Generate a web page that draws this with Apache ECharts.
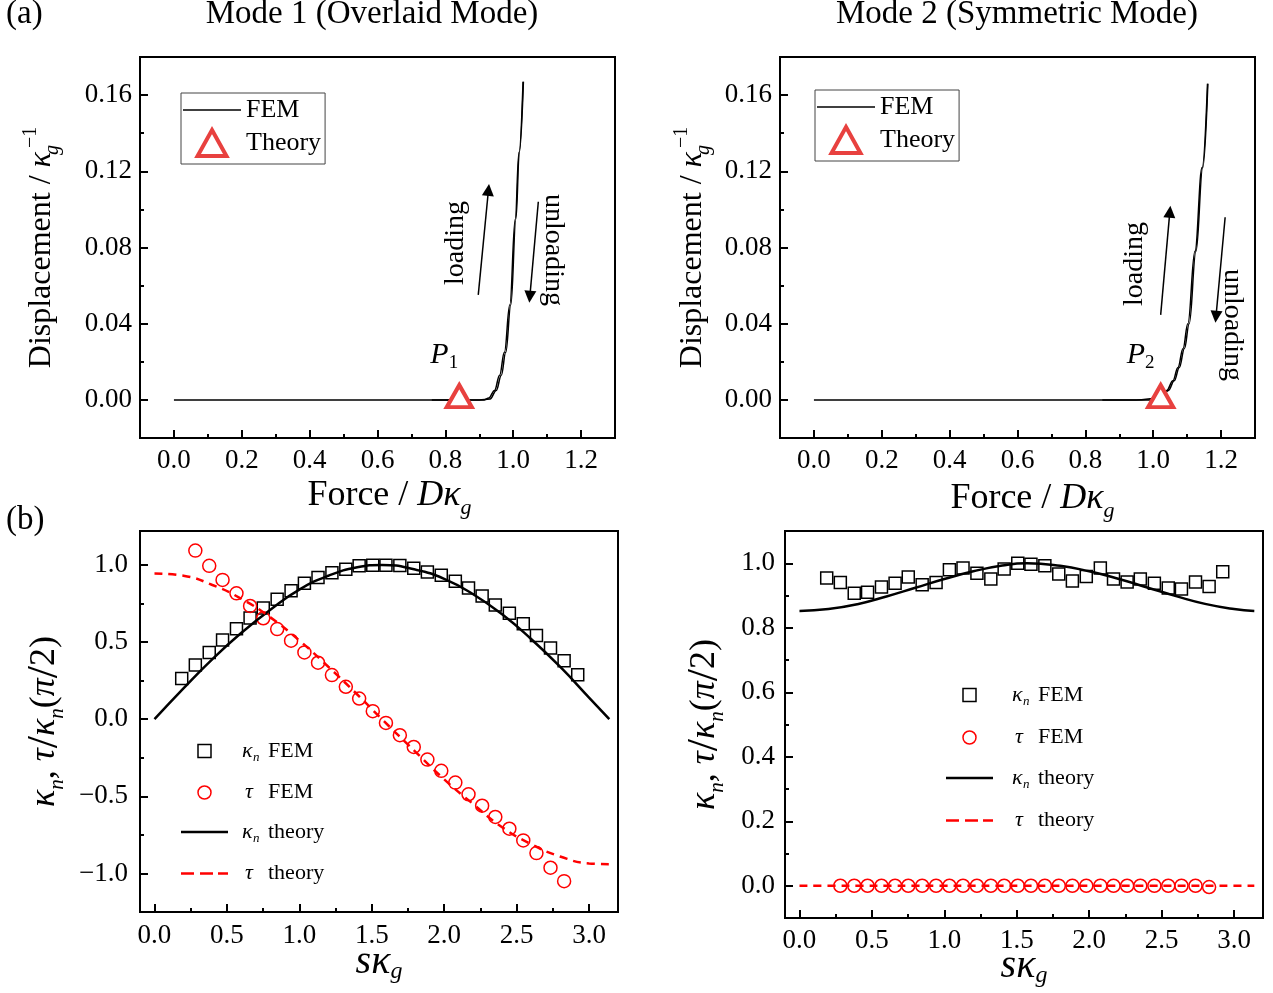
<!DOCTYPE html>
<html lang="en">
<head>
<meta charset="UTF-8">
<title>Mode 1 / Mode 2</title>
<script src="https://cdn.jsdelivr.net/npm/echarts@6/dist/echarts.min.js"></script>
<style>
    html, body { margin: 0; padding: 0; background: #fff; }
    #chart { width: 1273px; height: 993px; }
</style>
</head>
<body>
<div id="chart"></div>
<script>
// ---------- (a) force / displacement ----------
var mode1LoadF   = [0, 0.2, 0.4, 0.6, 0.8, 0.9, 0.932, 0.95, 0.965, 0.978, 0.993, 1.008, 1.018, 1.030];
var mode1LoadD   = [0, 0, 0, 0, 0, 0, 0.0005, 0.005, 0.013, 0.025, 0.050, 0.095, 0.130, 0.167];
var mode1UnloadF = [1.029, 1.017, 1.006, 0.990, 0.974, 0.960, 0.945, 0.928, 0.915, 0.88, 0.76];
var mode1UnloadD = [0.167, 0.130, 0.095, 0.050, 0.025, 0.013, 0.005, 0.001, 0, 0, 0];
var mode1Theory  = [[0.841, 0.002]];

var mode2LoadF   = [0, 0.3, 0.6, 0.9, 1.0, 1.025, 1.045, 1.062, 1.077, 1.092, 1.106, 1.126, 1.146, 1.161];
var mode2LoadD   = [0, 0, 0, 0, 0, 0.001, 0.005, 0.010, 0.017, 0.027, 0.040, 0.078, 0.122, 0.166];
var mode2UnloadF = [1.160, 1.144, 1.123, 1.102, 1.088, 1.073, 1.058, 1.040, 1.02, 0.95, 0.85];
var mode2UnloadD = [0.166, 0.122, 0.078, 0.040, 0.027, 0.017, 0.010, 0.005, 0.001, 0, 0];
var mode2Theory  = [[1.022, 0.002]];

var forceTicks = [0, 0.2, 0.4, 0.6, 0.8, 1.0, 1.2];
var forceMinor = [0.1, 0.3, 0.5, 0.7, 0.9, 1.1];
var dispTicks  = [0, 0.04, 0.08, 0.12, 0.16];
var dispMinor  = [0.02, 0.06, 0.10, 0.14];

// ---------- (b) curvature / torsion ----------
var femS = [0.188, 0.282, 0.378, 0.470, 0.566, 0.660, 0.751, 0.847, 0.943, 1.035,
            1.129, 1.225, 1.321, 1.413, 1.507, 1.598, 1.694, 1.790, 1.884, 1.980,
            2.077, 2.168, 2.262, 2.353, 2.450, 2.546, 2.637, 2.734, 2.828, 2.922];
var tauS = [0.282, 0.378, 0.470, 0.566, 0.660, 0.751, 0.847, 0.943, 1.035, 1.129,
            1.225, 1.321, 1.413, 1.507, 1.598, 1.694, 1.790, 1.884, 1.980, 2.077,
            2.168, 2.262, 2.353, 2.450, 2.546, 2.637, 2.734, 2.828];

var knFem1  = [0.264, 0.351, 0.433, 0.513, 0.586, 0.656, 0.721, 0.777, 0.833, 0.881,
               0.918, 0.950, 0.972, 0.994, 0.998, 0.998, 0.996, 0.978, 0.955, 0.933,
               0.894, 0.851, 0.799, 0.740, 0.686, 0.619, 0.543, 0.461, 0.379, 0.288];
var tauFem1 = [1.093, 0.994, 0.903, 0.816, 0.734, 0.654, 0.584, 0.509, 0.433, 0.366,
               0.286, 0.210, 0.134, 0.052, -0.024, -0.104, -0.180, -0.262, -0.335, -0.411,
               -0.487, -0.561, -0.634, -0.710, -0.786, -0.868, -0.963, -1.050];

var knFem2  = [0.954, 0.940, 0.907, 0.910, 0.926, 0.938, 0.957, 0.933, 0.940, 0.980,
               0.985, 0.969, 0.951, 0.982, 1.000, 0.997, 0.992, 0.967, 0.945, 0.959,
               0.985, 0.951, 0.942, 0.951, 0.938, 0.923, 0.920, 0.942, 0.928, 0.974];
var tauFem2 = [0, 0, 0, 0, 0, 0, 0, 0, 0, 0, 0, 0, 0, 0, 0, 0, 0, 0, 0, 0,
               0, 0, 0, 0, 0, 0, 0, -0.004];

var thS     = [0, 0.2, 0.4, 0.6, 0.8, 1.0, 1.2, 1.4, 1.57, 1.8, 2.0, 2.2, 2.4, 2.6, 2.8, 3.0, 3.14];
var knTh1   = [0, 0.20, 0.39, 0.56, 0.71, 0.84, 0.93, 0.985, 1.0, 0.97, 0.91, 0.81, 0.68, 0.52, 0.34, 0.14, 0];
var tauTh1  = [0.945, 0.93, 0.87, 0.78, 0.66, 0.51, 0.34, 0.16, 0, -0.21, -0.39, -0.55, -0.70, -0.81, -0.89, -0.935, -0.94];
var knTh2   = [0.852, 0.858, 0.873, 0.897, 0.924, 0.951, 0.975, 0.993, 1.0, 0.992, 0.975, 0.952, 0.925, 0.898, 0.874, 0.858, 0.852];
var tauTh2  = [0, 0, 0, 0, 0, 0, 0, 0, 0, 0, 0, 0, 0, 0, 0, 0, 0];

var sTicks  = [0, 0.5, 1.0, 1.5, 2.0, 2.5, 3.0];
var sMinor  = [0.25, 0.75, 1.25, 1.75, 2.25, 2.75];
var r1Ticks = [-1.0, -0.5, 0, 0.5, 1.0];
var r1Minor = [-0.75, -0.25, 0.25, 0.75];
var r2Ticks = [0, 0.2, 0.4, 0.6, 0.8, 1.0];
var r2Minor = [0.1, 0.3, 0.5, 0.7, 0.9];

var FF = 'Liberation Serif';
var RED_A = '#e8413f';
var RED_B = '#ff0000';

// legend icon shapes
var ICON_LINE_TOP = 'path://M0,0 L58,0 L58,1.5 L0,1.5 Z';
var ICON_TRI      = 'path://M5,0 L10,9 L0,9 Z';
var ICON_SQUARE   = 'path://M0,0 L10,0 L10,10 L0,10 Z';
var ICON_LINE     = 'path://M0,0 L47,0 L47,2.5 L0,2.5 Z';
var ICON_DASH     = 'path://M0,0 L13,0 L13,2.5 L0,2.5 Z M19,0 L32,0 L32,2.5 L19,2.5 Z M37,0 L47,0 L47,2.5 L37,2.5 Z';

function zip(xs, ys) {
    var out = [];
    for (var i = 0; i < xs.length; i++) out.push([xs[i], ys[i]]);
    return out;
}
function fmt(d) {
    return function (v) {
        var s = Math.abs(v).toFixed(d);
        return (v < -1e-9 ? '\u2212' : '') + s;
    };
}

var xRich = {
    t:   {fontFamily: FF, fontSize: 36, lineHeight: 46, color: '#000'},
    i:   {fontFamily: FF, fontSize: 36, lineHeight: 46, fontStyle: 'italic', color: '#000'},
    sub: {fontFamily: FF, fontSize: 22, lineHeight: 22, fontStyle: 'italic', verticalAlign: 'bottom', color: '#000'},
    bi:  {fontFamily: FF, fontSize: 40, lineHeight: 44, fontStyle: 'italic', color: '#000'},
    bsub:{fontFamily: FF, fontSize: 24, lineHeight: 22, fontStyle: 'italic', verticalAlign: 'bottom', color: '#000'}
};
var yRich = {
    t:   {fontFamily: FF, fontSize: 32, lineHeight: 42, color: '#000'},
    i:   {fontFamily: FF, fontSize: 32, lineHeight: 42, fontStyle: 'italic', color: '#000'},
    sub: {fontFamily: FF, fontSize: 20, lineHeight: 20, fontStyle: 'italic', verticalAlign: 'bottom', color: '#000'},
    subg:{fontFamily: FF, fontSize: 20, lineHeight: 20, fontStyle: 'italic', verticalAlign: 'bottom', width: 4, color: '#000'},
    sup: {fontFamily: FF, fontSize: 20, lineHeight: 20, verticalAlign: 'top', color: '#000'}
};
var rRich = {
    t:   {fontFamily: FF, fontSize: 36, lineHeight: 46, color: '#000'},
    sl:  {fontFamily: FF, fontSize: 44, lineHeight: 46, color: '#000'},
    i:   {fontFamily: FF, fontSize: 36, lineHeight: 46, fontStyle: 'italic', color: '#000'},
    sub: {fontFamily: FF, fontSize: 21, lineHeight: 21, fontStyle: 'italic', verticalAlign: 'bottom', color: '#000'}
};

function mainX(grid, min, max, ticks, dec, name, gap, margin, shift, freeName) {
    return {
        type: 'value', gridIndex: grid, min: min, max: max, position: 'bottom',
        axisLine: {show: true, onZero: false, lineStyle: {color: '#000', width: 2}},
        axisTick: {show: true, inside: true, length: 8, customValues: ticks, lineStyle: {color: '#000', width: 2}},
        axisLabel: {show: true, customValues: ticks, formatter: fmt(dec), margin: margin,
                    color: '#000', fontFamily: FF, fontSize: 27},
        splitLine: {show: false},
        name: name, nameLocation: 'middle', nameGap: gap,
        nameMoveOverlap: !freeName,
        nameTextStyle: {fontFamily: FF, fontSize: 36, color: '#000', rich: xRich, padding: [0, 0, 0, shift]}
    };
}
function mainY(grid, min, max, ticks, dec, name, gap, margin, rich) {
    return {
        type: 'value', gridIndex: grid, min: min, max: max, position: 'left',
        axisLine: {show: true, onZero: false, lineStyle: {color: '#000', width: 2}},
        axisTick: {show: true, inside: true, length: 8, customValues: ticks, lineStyle: {color: '#000', width: 2}},
        axisLabel: {show: true, customValues: ticks, formatter: fmt(dec), margin: margin,
                    color: '#000', fontFamily: FF, fontSize: 27},
        splitLine: {show: false},
        name: name, nameLocation: 'middle', nameGap: gap,
        nameTextStyle: {fontFamily: FF, fontSize: 32, color: '#000', rich: rich}
    };
}
function minorAxis(grid, min, max, ticks, pos) {
    return {
        type: 'value', gridIndex: grid, min: min, max: max, position: pos,
        axisLine: {show: false, onZero: false},
        axisTick: {show: true, inside: true, length: 4, customValues: ticks, lineStyle: {color: '#000', width: 2}},
        axisLabel: {show: false},
        splitLine: {show: false}
    };
}

var forceName = '{t|Force / }{i|D\u03ba}{sub|g}';
var dispName  = '{t|Displacement / }{i|\u03ba}{subg|g}{sup|\u22121}';
var sName     = '{bi|s\u03ba}{bsub|g}';
var ratioName = '{i|\u03ba}{sub|n}{t|, }{i|\u03c4}{sl|/}{i|\u03ba}{sub|n}{t|(}{i|\u03c0}{sl|/}{t|2)}';

var legendLabels = {
    fem1: 'FEM', theory1: 'Theory', fem2: 'FEM', theory2: 'Theory',
    knFem1: '{sp1| }{k|\u03ba}{n|n}{t|FEM}',
    tauFem1: '{sp1| }{tau|\u03c4}{t|FEM}',
    knTh1: '{sp1| }{k|\u03ba}{n|n}{t|theory}',
    tauTh1: '{sp1| }{tau|\u03c4}{t|theory}',
    knFem2: '{sp2| }{k|\u03ba}{n|n}{t|FEM}',
    tauFem2: '{sp2| }{tau|\u03c4}{t|FEM}',
    knTh2: '{sp2| }{k|\u03ba}{n|n}{t|theory}',
    tauTh2: '{sp2| }{tau|\u03c4}{t|theory}'
};
var legendRich = {
    sp1: {width: 9}, sp2: {width: 14},
    k:   {fontFamily: FF, fontSize: 22, lineHeight: 26, fontStyle: 'italic', width: 11},
    n:   {fontFamily: FF, fontSize: 13, lineHeight: 14, fontStyle: 'italic', width: 15, verticalAlign: 'bottom'},
    tau: {fontFamily: FF, fontSize: 22, lineHeight: 26, fontStyle: 'italic', width: 23, padding: [0, 0, 0, 3]},
    t:   {fontFamily: FF, fontSize: 22, lineHeight: 26}
};
function legendFmt(name) { return legendLabels[name]; }

function arrowLines(list) {
    return {
        silent: true, symbol: ['none', 'triangle'], symbolSize: 12,
        lineStyle: {color: '#000', width: 1.5, type: 'solid'},
        itemStyle: {color: '#000'},
        label: {show: false},
        data: list
    };
}

function femLine(name, xi, yi, xs, ys, extra) {
    var s = {
        name: name, type: 'line', xAxisIndex: xi, yAxisIndex: yi,
        data: zip(xs, ys), symbol: 'none', smooth: 0.4, smoothMonotone: 'x',
        color: '#000', lineStyle: {color: '#000', width: 1.5}, z: 3
    };
    if (extra) s.markLine = extra;
    return s;
}
function theoryTri(name, xi, yi, data, sub, dx) {
    return {
        name: name, type: 'scatter', xAxisIndex: xi, yAxisIndex: yi, data: data,
        symbol: 'triangle', symbolSize: [25, 22], z: 5,
        itemStyle: {color: '#fff', borderColor: RED_A, borderWidth: 4, opacity: 1},
        label: {
            show: true, position: 'top', offset: [dx, -6], formatter: '{p|P}{s|' + sub + '}',
            rich: {
                p: {fontFamily: FF, fontSize: 30, lineHeight: 34, fontStyle: 'italic', color: '#000'},
                s: {fontFamily: FF, fontSize: 19, lineHeight: 19, verticalAlign: 'bottom', color: '#000'}
            }
        }
    };
}
function femScatter(name, xi, yi, xs, ys, symbol, size, color) {
    return {
        name: name, type: 'scatter', xAxisIndex: xi, yAxisIndex: yi, data: zip(xs, ys),
        symbol: symbol, symbolSize: size,
        itemStyle: {color: 'transparent', borderColor: color, borderWidth: 1.5, opacity: 1}
    };
}
function theoryLine(name, xi, yi, xs, ys, color, dashed) {
    return {
        name: name, type: 'line', xAxisIndex: xi, yAxisIndex: yi, data: zip(xs, ys),
        symbol: 'none', smooth: true, color: color,
        lineStyle: {color: color, width: 2.5, type: dashed ? [8, 6] : 'solid'}
    };
}

var chart = echarts.init(document.getElementById('chart'));

var titleStyle = {fontFamily: FF, fontSize: 33, fontWeight: 'normal', color: '#000'};

function gridBox(l, t, w, h) {
    return {left: l, top: t, width: w, height: h, show: true, borderColor: '#000', borderWidth: 2,
            containLabel: false, outerBoundsMode: 'none'};
}

var option = {
    animation: false,
    backgroundColor: '#fff',
    title: [
        {text: '(a)', left: 6, top: -2, padding: 0, textStyle: titleStyle},
        {text: '(b)', left: 6, top: 504, padding: 0, textStyle: titleStyle},
        {text: 'Mode 1 (Overlaid Mode)', left: 372, top: -2, padding: 0, textAlign: 'center', textStyle: titleStyle},
        {text: 'Mode 2 (Symmetric Mode)', left: 1017, top: -2, padding: 0, textAlign: 'center', textStyle: titleStyle}
    ],
    grid: [
        gridBox(140, 57, 475, 381),
        gridBox(780, 57, 475, 381),
        gridBox(140, 531, 478, 381),
        gridBox(785, 531, 478, 387)
    ],
    xAxis: [
        mainX(0, -0.1, 1.3, forceTicks, 1, forceName, 35, 9, 24, false),
        minorAxis(0, -0.1, 1.3, forceMinor, 'bottom'),
        mainX(1, -0.1, 1.3, forceTicks, 1, forceName, 38, 9, 30, false),
        minorAxis(1, -0.1, 1.3, forceMinor, 'bottom'),
        mainX(2, -0.1, 3.2, sTicks, 1, sName, 28, 10, 0, true),
        minorAxis(2, -0.1, 3.2, sMinor, 'bottom'),
        mainX(3, -0.1, 3.2, sTicks, 1, sName, 26, 9, 0, true),
        minorAxis(3, -0.1, 3.2, sMinor, 'bottom')
    ],
    yAxis: [
        mainY(0, -0.02, 0.18, dispTicks, 2, dispName, 77, 8, yRich),
        minorAxis(0, -0.02, 0.18, dispMinor, 'left'),
        mainY(1, -0.02, 0.18, dispTicks, 2, dispName, 66, 8, yRich),
        minorAxis(1, -0.02, 0.18, dispMinor, 'left'),
        mainY(2, -1.25, 1.22, r1Ticks, 1, ratioName, 72, 12, rRich),
        minorAxis(2, -1.25, 1.22, r1Minor, 'left'),
        mainY(3, -0.1, 1.1, r2Ticks, 1, ratioName, 57, 10, rRich),
        minorAxis(3, -0.1, 1.1, r2Minor, 'left')
    ],
    legend: [
        {
            data: [
                {name: 'fem1', icon: ICON_LINE_TOP, itemStyle: {color: '#000', borderWidth: 0}},
                {name: 'theory1', icon: ICON_TRI, itemStyle: {color: '#fff', borderColor: RED_A, borderWidth: 4}}
            ],
            left: 181, top: 93, orient: 'vertical', align: 'left', selectedMode: false,
            itemWidth: 58, itemHeight: 26, itemGap: 5, padding: [4, 4, 6, 2],
            borderColor: '#444', borderWidth: 1, formatter: legendFmt,
            textStyle: {fontFamily: FF, fontSize: 26, color: '#000'}
        },
        {
            data: [
                {name: 'fem2', icon: ICON_LINE_TOP, itemStyle: {color: '#000', borderWidth: 0}},
                {name: 'theory2', icon: ICON_TRI, itemStyle: {color: '#fff', borderColor: RED_A, borderWidth: 4}}
            ],
            left: 815, top: 90, orient: 'vertical', align: 'left', selectedMode: false,
            itemWidth: 58, itemHeight: 26, itemGap: 5, padding: [4, 4, 6, 2],
            borderColor: '#444', borderWidth: 1, formatter: legendFmt,
            textStyle: {fontFamily: FF, fontSize: 26, color: '#000'}
        },
        {
            data: [
                {name: 'knFem1', icon: ICON_SQUARE, itemStyle: {color: 'transparent', borderColor: '#000', borderWidth: 1.5}},
                {name: 'tauFem1', icon: 'circle', itemStyle: {color: 'transparent', borderColor: RED_B, borderWidth: 1.5}},
                {name: 'knTh1', icon: ICON_LINE, itemStyle: {color: '#000', borderWidth: 0}},
                {name: 'tauTh1', icon: ICON_DASH, itemStyle: {color: RED_B, borderWidth: 0}}
            ],
            left: 181, top: 740, orient: 'vertical', align: 'left', selectedMode: false,
            itemWidth: 47, itemHeight: 13, itemGap: 17.5, padding: 0, formatter: legendFmt,
            textStyle: {fontFamily: FF, fontSize: 22, color: '#000', rich: legendRich}
        },
        {
            data: [
                {name: 'knFem2', icon: ICON_SQUARE, itemStyle: {color: 'transparent', borderColor: '#000', borderWidth: 1.5}},
                {name: 'tauFem2', icon: 'circle', itemStyle: {color: 'transparent', borderColor: RED_B, borderWidth: 1.5}},
                {name: 'knTh2', icon: ICON_LINE, itemStyle: {color: '#000', borderWidth: 0}},
                {name: 'tauTh2', icon: ICON_DASH, itemStyle: {color: RED_B, borderWidth: 0}}
            ],
            left: 946, top: 684, orient: 'vertical', align: 'left', selectedMode: false,
            itemWidth: 47, itemHeight: 13, itemGap: 18.5, padding: 0, formatter: legendFmt,
            textStyle: {fontFamily: FF, fontSize: 22, color: '#000', rich: legendRich}
        }
    ],
    graphic: [
        {type: 'text', x: 456, y: 243, rotation: Math.PI / 2,
         style: {text: 'loading', fontFamily: FF, fontSize: 28, fill: '#000', align: 'center', verticalAlign: 'middle'}},
        {type: 'text', x: 553, y: 250, rotation: -Math.PI / 2,
         style: {text: 'unloading', fontFamily: FF, fontSize: 28, fill: '#000', align: 'center', verticalAlign: 'middle'}},
        {type: 'text', x: 1135, y: 264, rotation: Math.PI / 2,
         style: {text: 'loading', fontFamily: FF, fontSize: 28, fill: '#000', align: 'center', verticalAlign: 'middle'}},
        {type: 'text', x: 1232, y: 325, rotation: -Math.PI / 2,
         style: {text: 'unloading', fontFamily: FF, fontSize: 28, fill: '#000', align: 'center', verticalAlign: 'middle'}}
    ],
    series: [
        femLine('fem1', 0, 0, mode1LoadF, mode1LoadD, arrowLines([
            [{coord: [0.897, 0.0551]}, {coord: [0.927, 0.1102]}],
            [{coord: [1.074, 0.104]}, {coord: [1.049, 0.0542]}]
        ])),
        femLine('fem1', 0, 0, mode1UnloadF, mode1UnloadD),
        theoryTri('theory1', 0, 0, mode1Theory, '1', -15),

        femLine('fem2', 2, 2, mode2LoadF, mode2LoadD, arrowLines([
            [{coord: [1.022, 0.0446]}, {coord: [1.049, 0.0988]}],
            [{coord: [1.212, 0.0959]}, {coord: [1.185, 0.0437]}]
        ])),
        femLine('fem2', 2, 2, mode2UnloadF, mode2UnloadD),
        theoryTri('theory2', 2, 2, mode2Theory, '2', -20),

        theoryLine('knTh1', 4, 4, thS, knTh1, '#000', false),
        theoryLine('tauTh1', 4, 4, thS, tauTh1, RED_B, true),
        femScatter('knFem1', 4, 4, femS, knFem1, 'rect', 12, '#000'),
        femScatter('tauFem1', 4, 4, tauS, tauFem1, 'circle', 13, RED_B),

        theoryLine('knTh2', 6, 6, thS, knTh2, '#000', false),
        theoryLine('tauTh2', 6, 6, thS, tauTh2, RED_B, true),
        femScatter('knFem2', 6, 6, femS, knFem2, 'rect', 12, '#000'),
        femScatter('tauFem2', 6, 6, tauS, tauFem2, 'circle', 13, RED_B)
    ]
};

chart.setOption(option);
</script>
</body>
</html>
